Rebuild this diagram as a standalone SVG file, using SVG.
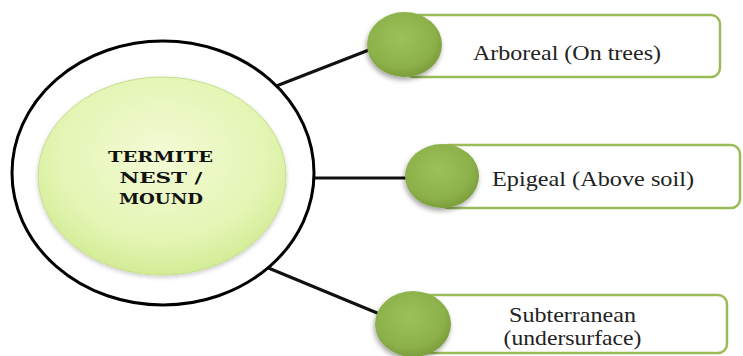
<svg xmlns="http://www.w3.org/2000/svg" width="743" height="356" viewBox="0 0 743 356">
<defs>
<radialGradient id="gCore" cx="50%" cy="40%" r="60%">
<stop offset="0" stop-color="#f3fbd6"/>
<stop offset="0.7" stop-color="#e4f5b4"/>
<stop offset="1" stop-color="#d3ec95"/>
</radialGradient>
<radialGradient id="gBall" cx="45%" cy="40%" r="60%">
<stop offset="0" stop-color="#9cc05a"/>
<stop offset="0.75" stop-color="#8db14a"/>
<stop offset="1" stop-color="#7c9e3c"/>
</radialGradient>
<filter id="sh" x="-30%" y="-30%" width="160%" height="160%">
<feDropShadow dx="-1" dy="3" stdDeviation="2.5" flood-color="#000" flood-opacity="0.35"/>
</filter>
<filter id="sh2" x="-10%" y="-10%" width="120%" height="130%">
<feDropShadow dx="0" dy="2" stdDeviation="2" flood-color="#000" flood-opacity="0.2"/>
</filter>
</defs>
<style>
.box{fill:#fff;stroke:#9bbb59;stroke-width:2.5}
.ball{fill:url(#gBall);filter:url(#sh)}
.lbl{font-family:"Liberation Serif","Times New Roman",serif;font-size:21px;fill:#222;text-anchor:middle}
.core{font-family:"DejaVu Serif","Liberation Serif",serif;font-weight:bold;font-size:15.5px;fill:#111;text-anchor:middle}
.conn{stroke:#111;stroke-width:3;fill:none}
</style>
<rect width="743" height="356" fill="#fff"/>
<g id="connectors">
<line class="conn" x1="266" y1="90" x2="374" y2="48"/>
<line class="conn" x1="312" y1="178" x2="412" y2="178"/>
<line class="conn" x1="266" y1="267" x2="382" y2="315"/>
</g>
<g id="center">
<ellipse cx="163" cy="173" rx="151" ry="132" fill="#fff" stroke="#000" stroke-width="3"/>
<ellipse cx="162" cy="176" rx="124" ry="99" fill="url(#gCore)" stroke="#c6de8c" stroke-width="1" filter="url(#sh2)"/>
<text class="core" x="160.5" y="162" textLength="105" lengthAdjust="spacingAndGlyphs">TERMITE</text>
<text class="core" x="161" y="183" textLength="83" lengthAdjust="spacingAndGlyphs">NEST /</text>
<text class="core" x="161" y="204" textLength="84" lengthAdjust="spacingAndGlyphs">MOUND</text>
</g>
<g id="arboreal">
<rect class="box" x="405" y="15" width="315" height="62" rx="9"/>
<ellipse class="ball" cx="404.5" cy="44.5" rx="37.5" ry="32.5"/>
<text class="lbl" x="567" y="60" textLength="188" lengthAdjust="spacingAndGlyphs">Arboreal (On trees)</text>
</g>
<g id="epigeal">
<rect class="box" x="440" y="145" width="300" height="63" rx="9"/>
<ellipse class="ball" cx="442" cy="176" rx="37" ry="32"/>
<text class="lbl" x="593" y="186" textLength="202" lengthAdjust="spacingAndGlyphs">Epigeal (Above soil)</text>
</g>
<g id="subterranean">
<rect class="box" x="412" y="295" width="315" height="58" rx="9"/>
<ellipse class="ball" cx="413" cy="324" rx="38" ry="33"/>
<text class="lbl" x="572.5" y="322" textLength="127" lengthAdjust="spacingAndGlyphs">Subterranean</text>
<text class="lbl" x="572.5" y="345" textLength="138" lengthAdjust="spacingAndGlyphs">(undersurface)</text>
</g>
</svg>
